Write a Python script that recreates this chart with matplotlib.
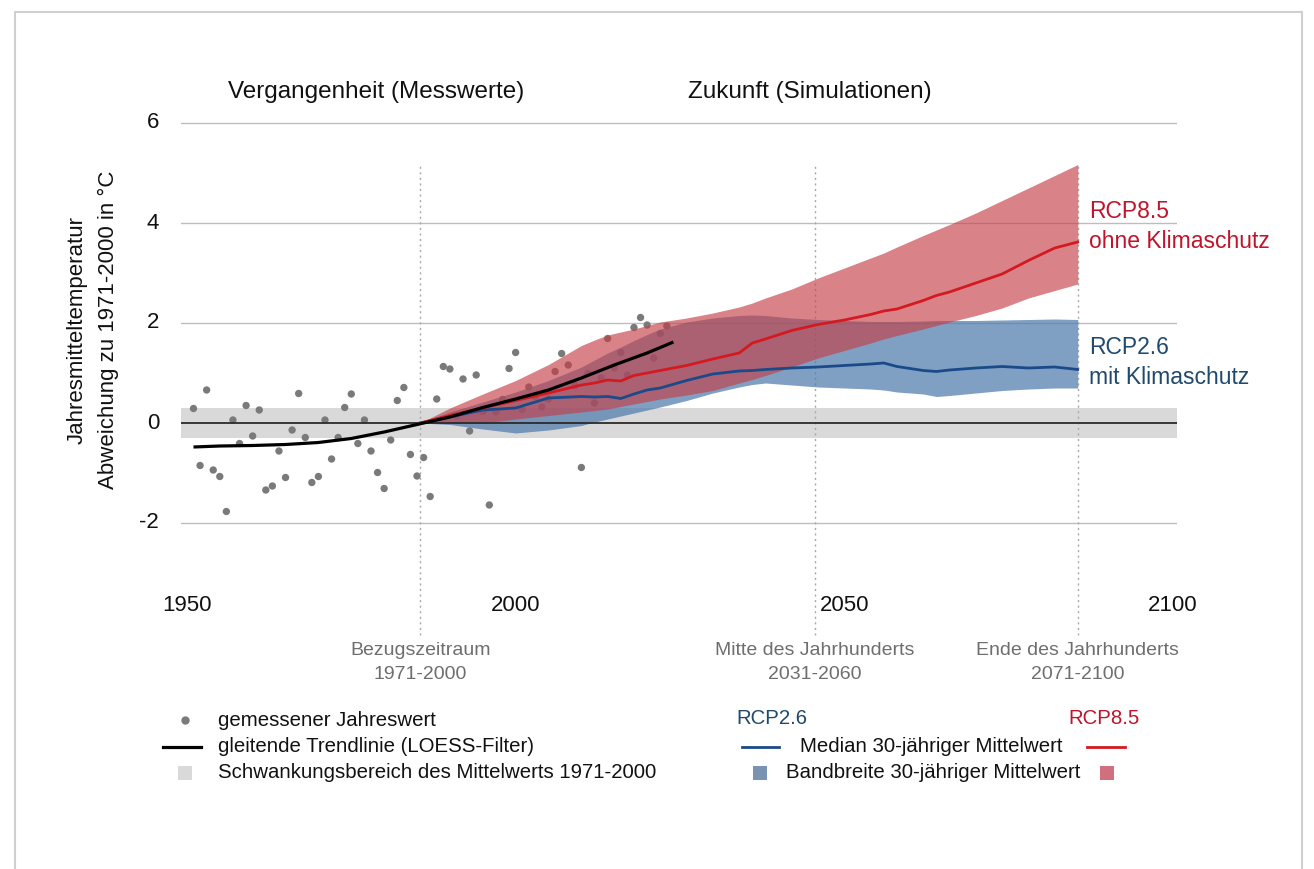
import matplotlib
matplotlib.use("Agg")
import matplotlib.pyplot as plt
from matplotlib.lines import Line2D
from matplotlib.patches import Rectangle

plt.rcParams['font.family'] = ['Liberation Sans', 'DejaVu Sans']

# ---------------- data ----------------
obs_years = list(range(1951, 2024))
obs_values = [0.29, -0.85, 0.66, -0.94, -1.07, -1.77, 0.06, -0.41, 0.35, -0.26,
              0.26, -1.34, -1.26, -0.56, -1.09, -0.14, 0.59, -0.29, -1.19, -1.07,
              0.06, -0.72, -0.29, 0.31, 0.58, -0.41, 0.06, -0.56, -0.99, -1.31,
              -0.34, 0.45, 0.71, -0.63, -1.06, -0.69, -1.47, 0.48, 1.13, 1.08,
              0.14, 0.88, -0.16, 0.96, 0.23, -1.64, 0.22, 0.47, 1.09, 1.41,
              0.27, 0.72, 0.53, 0.32, 0.48, 1.03, 1.39, 1.16, 0.75, -0.89,
              0.99, 0.40, 0.90, 1.69, 1.10, 1.41, 0.96, 1.91, 2.11, 1.96,
              1.30, 1.79, 1.94]

trend_years = [1951, 1955, 1960, 1965, 1970, 1975, 1980, 1985, 1990, 1995,
               2000, 2005, 2010, 2015, 2020, 2024]
trend_values = [-0.48, -0.46, -0.45, -0.43, -0.39, -0.31, -0.18, -0.03, 0.12, 0.31,
                0.48, 0.66, 0.90, 1.16, 1.40, 1.62]

rcp_years = [1985.5, 1990, 1995, 2000, 2005, 2010, 2012, 2014, 2016, 2018, 2020,
             2022, 2026, 2030, 2034, 2036, 2038, 2042, 2046, 2050, 2054, 2056,
             2058, 2062, 2064, 2066, 2070, 2074, 2078, 2082, 2085.5]
rcp85_hi = [0.0, 0.30, 0.58, 0.85, 1.17, 1.55, 1.66, 1.76, 1.82, 1.88, 1.95,
            2.02, 2.10, 2.20, 2.32, 2.40, 2.50, 2.68, 2.90, 3.10, 3.30, 3.40,
            3.52, 3.75, 3.86, 3.97, 4.20, 4.45, 4.70, 4.95, 5.17]
rcp85_lo = [0.0, 0.0, 0.0, 0.08, 0.15, 0.22, 0.25, 0.28, 0.33, 0.38, 0.43,
            0.48, 0.56, 0.65, 0.80, 0.87, 0.95, 1.12, 1.30, 1.45, 1.60, 1.68,
            1.75, 1.88, 1.95, 2.02, 2.15, 2.30, 2.50, 2.65, 2.78]
rcp85_med = [0.0, 0.15, 0.30, 0.45, 0.60, 0.76, 0.80, 0.86, 0.84, 0.95, 1.00,
             1.05, 1.15, 1.28, 1.40, 1.60, 1.68, 1.85, 1.97, 2.06, 2.17, 2.24,
             2.28, 2.45, 2.55, 2.62, 2.80, 2.98, 3.25, 3.50, 3.62]
rcp26_hi = [0.0, 0.22, 0.42, 0.62, 0.85, 1.12, 1.26, 1.40, 1.52, 1.65, 1.77,
            1.88, 2.02, 2.10, 2.15, 2.16, 2.15, 2.10, 2.07, 2.05, 2.03, 2.03,
            2.03, 2.04, 2.05, 2.05, 2.05, 2.06, 2.07, 2.08, 2.07]
rcp26_lo = [0.0, -0.03, -0.12, -0.20, -0.14, -0.05, 0.02, 0.08, 0.14, 0.20, 0.26,
            0.32, 0.45, 0.60, 0.72, 0.77, 0.80, 0.76, 0.72, 0.70, 0.68, 0.66,
            0.62, 0.58, 0.53, 0.55, 0.60, 0.65, 0.68, 0.70, 0.70]
rcp26_med = [0.0, 0.12, 0.26, 0.30, 0.50, 0.53, 0.52, 0.53, 0.49, 0.58, 0.66,
             0.70, 0.85, 0.98, 1.04, 1.05, 1.07, 1.10, 1.12, 1.15, 1.18, 1.20,
             1.13, 1.05, 1.03, 1.06, 1.10, 1.13, 1.10, 1.12, 1.07]

ref_band = (-0.3, 0.3)
period_centers = [1985.5, 2045.5, 2085.5]
period_labels = ["Bezugszeitraum\n1971-2000", "Mitte des Jahrhunderts\n2031-2060",
                 "Ende des Jahrhunderts\n2071-2100"]
xticks = [1950, 2000, 2050, 2100]
yticks = [6, 4, 2, 0, -2]

# ---------------- colours ----------------
C_RED_BAND = '#c43e45'
C_BLUE_BAND = '#4f7bad'
C_RED_LINE = '#d41a20'
C_BLUE_LINE = '#1b4a8a'
C_RED_TXT = '#c0142c'
C_BLUE_TXT = '#1f4a6e'
C_GREY_TXT = '#6e6e6e'

W, H = 1314, 869
fig = plt.figure(figsize=(W / 100, H / 100), dpi=100)
fig.patch.set_facecolor('white')

def fx(px):
    return px / W

def fy(py):
    return 1 - py / H

# frame around figure
fig.patches.append(Rectangle((fx(15), fy(880)), fx(1302) - fx(15), fy(12) - fy(880),
                             transform=fig.transFigure, fill=False,
                             edgecolor='#cfcfcf', lw=1.5))

# axes: left px 181, right px 1177 ; y: 6.3 -> px 108, -4.4 -> px 643
ax_l, ax_r = 181, 1177
ax_t, ax_b = 108, 643
ax = fig.add_axes([fx(ax_l), fy(ax_b), fx(ax_r) - fx(ax_l), (ax_b - ax_t) / H])
ax.set_xlim(1949.1, 2100.6)
ax.set_ylim(-4.4, 6.3)
ax.axis('off')

# gridlines
for yv in yticks:
    if yv != 0:
        ax.axhline(yv, color='#bdbdbd', lw=1.0, zorder=0)

# reference band
ax.axhspan(ref_band[0], ref_band[1], color='#d9d9d9', lw=0, zorder=1)

# observations
ax.scatter(obs_years, obs_values, s=28, color='#7a7a7a', edgecolors='none', zorder=2)

# period lines
for xc in period_centers:
    ax.plot([xc, xc], [-4.25, 5.2], color='#a8a8a8', lw=1.0, ls=(0, (1.5, 2.5)),
            zorder=2, clip_on=False)

# bands
ax.fill_between(rcp_years, rcp26_lo, rcp26_hi, color=C_BLUE_BAND, alpha=0.72,
                lw=0, zorder=3)
ax.fill_between(rcp_years, rcp85_lo, rcp85_hi, color=C_RED_BAND, alpha=0.64,
                lw=0, zorder=4)

# zero line
ax.axhline(0, color='#2b2b2b', lw=1.3, zorder=5)

# medians
ax.plot(rcp_years, rcp26_med, color=C_BLUE_LINE, lw=2.0, zorder=6)
ax.plot(rcp_years, rcp85_med, color=C_RED_LINE, lw=2.0, zorder=6)

# trend
ax.plot(trend_years, trend_values, color='black', lw=2.3, zorder=7,
        solid_capstyle='butt')

# tick labels
for xv in xticks:
    ax.text(xv, -3.66, str(xv), ha='center', va='center', fontsize=16, color='#111111',
            clip_on=False)
for yv in yticks:
    fig.text(fx(159), fy(423 - yv * 50), str(yv), ha='right', va='center', fontsize=16,
             color='#111111')

# period annotations
for xc, lab in zip(period_centers, period_labels):
    ax.text(xc, -4.79, lab, ha='center', va='center', fontsize=14, color=C_GREY_TXT,
            linespacing=1.5, clip_on=False)

# y axis label
fig.text(fx(77), fy(330), "Jahresmitteltemperatur", rotation=90, ha='center',
         va='center', fontsize=16, color='#111111')
fig.text(fx(108), fy(330), "Abweichung zu 1971-2000 in °C", rotation=90, ha='center',
         va='center', fontsize=16, color='#111111')

# section titles
fig.text(fx(376), fy(92), "Vergangenheit (Messwerte)", ha='center', va='center',
         fontsize=17.5, color='#111111')
fig.text(fx(810), fy(92), "Zukunft (Simulationen)", ha='center', va='center',
         fontsize=17.5, color='#111111')

# right labels
fig.text(fx(1089), fy(211), "RCP8.5", ha='left', va='center', fontsize=16.5,
         color=C_RED_TXT)
fig.text(fx(1089), fy(241), "ohne Klimaschutz", ha='left', va='center', fontsize=16.5,
         color=C_RED_TXT)
fig.text(fx(1089), fy(347), "RCP2.6", ha='left', va='center', fontsize=16.5,
         color=C_BLUE_TXT)
fig.text(fx(1089), fy(377), "mit Klimaschutz", ha='left', va='center', fontsize=16.5,
         color=C_BLUE_TXT)

# ---------------- legend (bottom) ----------------
LFS = 14.7
# left block
fig.add_artist(Line2D([fx(185)], [fy(720)], marker='o', markersize=5,
                      color='#7a7a7a', transform=fig.transFigure, ls='none'))
fig.text(fx(218), fy(721), "gemessener Jahreswert", ha='left', va='center',
         fontsize=LFS, color='#111111')
fig.add_artist(Line2D([fx(163), fx(201)], [fy(747), fy(747)], color='black', lw=2.3,
                      transform=fig.transFigure))
fig.text(fx(218), fy(747), "gleitende Trendlinie (LOESS-Filter)", ha='left',
         va='center', fontsize=LFS, color='#111111')
fig.patches.append(Rectangle((fx(178), fy(780)), fx(14), 14 / H,
                             transform=fig.transFigure, color='#d9d9d9', lw=0))
fig.text(fx(218), fy(773), "Schwankungsbereich des Mittelwerts 1971-2000", ha='left',
         va='center', fontsize=LFS, color='#111111')

# right block
fig.text(fx(736), fy(718), "RCP2.6", ha='left', va='center', fontsize=LFS,
         color=C_BLUE_TXT)
fig.text(fx(1140), fy(718), "RCP8.5", ha='right', va='center', fontsize=LFS,
         color=C_RED_TXT)
fig.add_artist(Line2D([fx(742), fx(779)], [fy(747), fy(747)], color=C_BLUE_LINE,
                      lw=2.0, transform=fig.transFigure))
fig.add_artist(Line2D([fx(1087), fx(1125)], [fy(747), fy(747)], color=C_RED_LINE,
                      lw=2.0, transform=fig.transFigure))
fig.text(fx(931), fy(747), "Median 30-jähriger Mittelwert", ha='center', va='center',
         fontsize=LFS, color='#111111')
fig.patches.append(Rectangle((fx(753), fy(780)), fx(14), 14 / H,
                             transform=fig.transFigure, color='#7b93b3', lw=0))
fig.patches.append(Rectangle((fx(1100), fy(780)), fx(14), 14 / H,
                             transform=fig.transFigure, color='#d0707e', lw=0))
fig.text(fx(933), fy(773), "Bandbreite 30-jähriger Mittelwert", ha='center',
         va='center', fontsize=LFS, color='#111111')

fig.savefig("out.png", dpi=100, facecolor='white')
